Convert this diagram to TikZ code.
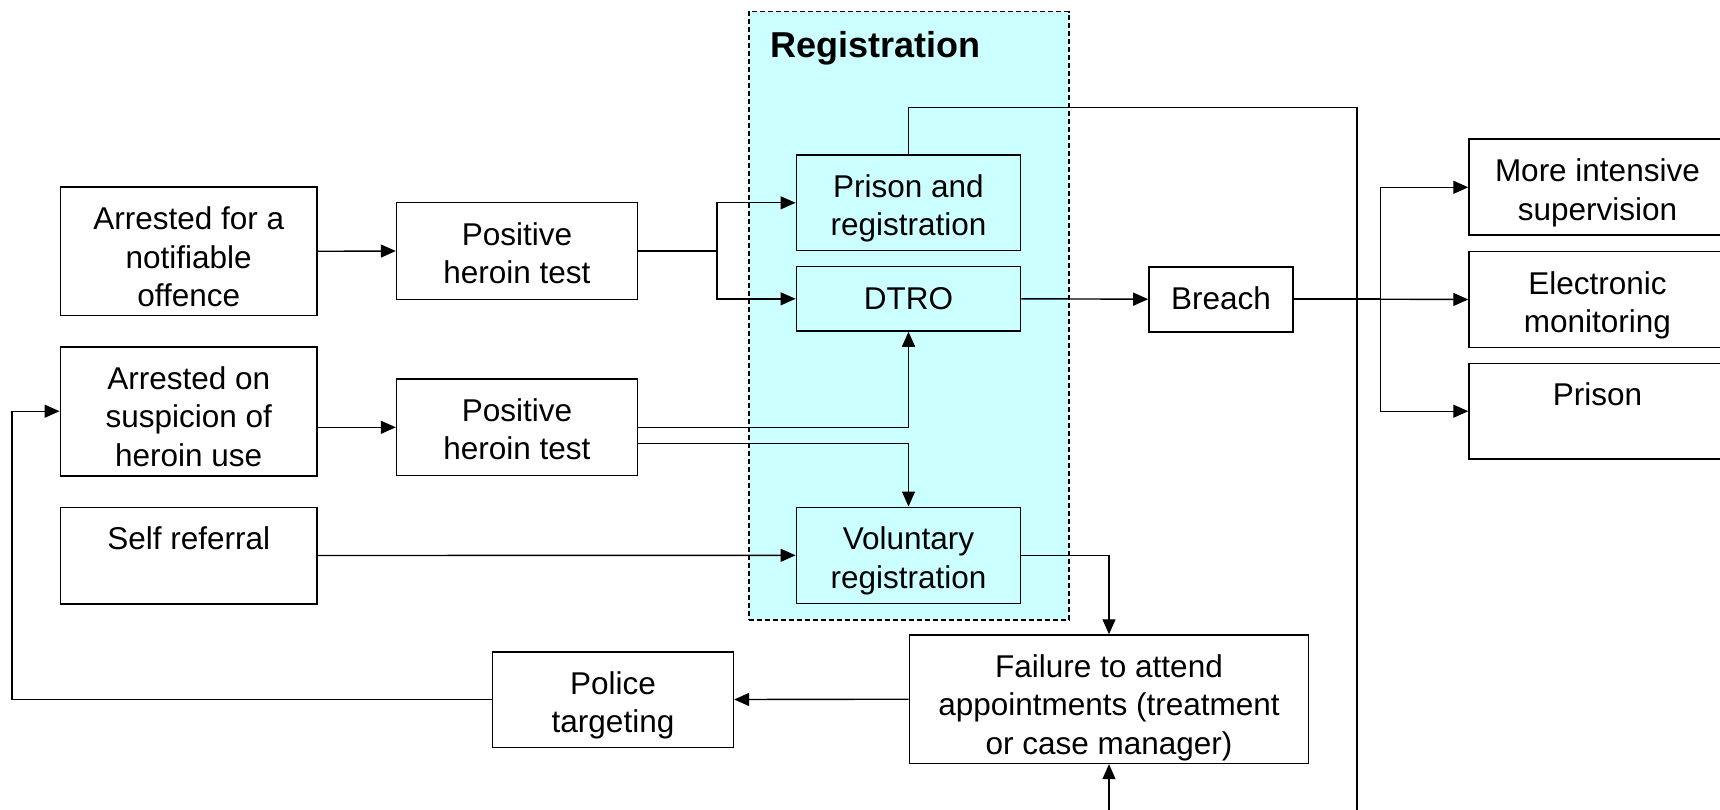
\documentclass[tikz,border=0pt]{standalone}
\usepackage{fontspec}
\setmainfont{Liberation Sans}
\usetikzlibrary{arrows.meta}
\definecolor{regfill}{RGB}{204,255,255}
\newcommand{\firstline}{\rule{0pt}{43pt}}
\begin{document}
\begin{tikzpicture}[x=1pt,y=-1pt,
  box/.style 2 args={draw, line width=1.6pt, fill=white, inner sep=0pt,
    minimum width=#1pt, minimum height=#2pt},
  regbox/.style 2 args={box={#1}{#2}, fill=regfill},
  txt/.style={anchor=north, inner sep=0pt, align=center,
    font=\fontsize{31.5}{38.5}\selectfont},
  conn/.style={line width=1.4pt},
  trunk/.style={line width=2.4pt},
  arr/.style={conn, -{Triangle[length=15pt,width=13pt]}},
  groupbox/.style={draw, dash pattern=on 5pt off 3pt, line width=1.5pt,
    fill=regfill, inner sep=0pt}]

\useasboundingbox (0,0) rectangle (1720,810);
\clip (0,0) rectangle (1720,810);
\fill[white] (0,0) rectangle (1720,810);

% registration group
\node[groupbox, minimum width=320pt, minimum height=608.3pt] (reg) at (909,315.85) {};
\node[anchor=base west, inner sep=0pt, font=\fontsize{36}{42}\selectfont\bfseries] (regtitle) at (770,57.5) {Registration};

% entry routes
\node[box={256.7}{128}]   (A1) at (188.7,251.3) {};
\node[box={240.8}{96.6}]  (P1) at (517,251)     {};
\node[box={256.7}{129}]   (A2) at (188.7,411.2) {};
\node[box={240.8}{96.7}]  (P2) at (517,427.3)   {};
\node[box={256.7}{96.4}]  (SR) at (188.7,555.5) {};

% registration types
\node[regbox={224.3}{95.7}] (PR)   at (908.5,202.8) {};
\node[regbox={224.3}{64.3}] (DTRO) at (908.5,298.8) {};
\node[regbox={224.3}{96}]   (VR)   at (908.5,555.3) {};

% breach and outcomes
\node[box={143.8}{65}]    (BR)  at (1220.9,299.2) {};
\node[box={256.7}{96}]    (MIS) at (1597.4,187.3) {};
\node[box={256.7}{95.6}]  (EM)  at (1597.4,299.5) {};
\node[box={256.7}{95.7}]  (PRI) at (1597.4,411.2) {};

% non-attendance loop
\node[box={399.3}{128.3}] (FA) at (1109,699.2) {};
\node[box={240.8}{95.6}]  (PT) at (613,699.5)  {};

% box texts, set from the top edge of each box
\node[txt] (A1t)   at (A1.north)   {\firstline Arrested for a\\notifiable\\offence};
\node[txt] (P1t)   at (P1.north)   {\firstline Positive\\heroin test};
\node[txt] (A2t)   at (A2.north)   {\firstline Arrested on\\suspicion of\\heroin use};
\node[txt] (P2t)   at (P2.north)   {\firstline Positive\\heroin test};
\node[txt] (SRt)   at (SR.north)   {\firstline Self referral};
\node[txt] (PRt)   at (PR.north)   {\firstline Prison and\\registration};
\node[txt] (DTROt) at (DTRO.north) {\firstline DTRO};
\node[txt] (VRt)   at (VR.north)   {\firstline Voluntary\\registration};
\node[txt] (BRt)   at (BR.north)   {\firstline Breach};
\node[txt] (MISt)  at (MIS.north)  {\firstline More intensive\\supervision};
\node[txt] (EMt)   at (EM.north)   {\firstline Electronic\\monitoring};
\node[txt] (PRIt)  at (PRI.north)  {\firstline Prison};
\node[txt] (FAt)   at (FA.north)   {\firstline Failure to attend\\appointments (treatment\\or case manager)};
\node[txt] (PTt)   at (PT.north)   {\firstline Police\\targeting};

% routing points
\coordinate (j1) at (716.8,251);
\coordinate (j2) at (1380.6,299.2);
\coordinate (topR) at (1357,107.3);
\coordinate (bottomB) at (1357,830);
\coordinate (bottomA) at (1109,830);
\coordinate (leftC) at (12,699.5);

% connectors
\draw[arr] (A1.east) -- (P1.west);
\draw[trunk] (P1.east) -- (j1);
\draw[arr] (j1) |- (PR.west);
\draw[arr] (j1) |- (DTRO.west);
\draw[arr] (DTRO.east) -- (BR.west);
\draw[trunk] (BR.east) -- (j2);
\draw[arr] (j2) |- (MIS.west);
\draw[arr] (j2) -- (EM.west);
\draw[arr] (j2) |- (PRI.west);
\draw[conn] (PR.north) |- (topR) -- (bottomB);
\draw[arr] (A2.east |- P2.east) -- (P2.west);
\draw[arr] (P2.east) -| (DTRO.south);
\draw[arr] ([yshift=-16pt]P2.east) -| (VR.north);
\draw[arr] (SR.east) -- (VR.west);
\draw[arr] (VR.east) -| (FA.north);
\draw[arr] (FA.west) -- (PT.east);
\draw[arr] (PT.west) -- (leftC) |- (A2.west);
\draw[arr] (bottomA) -- (FA.south);
\end{tikzpicture}
\end{document}
